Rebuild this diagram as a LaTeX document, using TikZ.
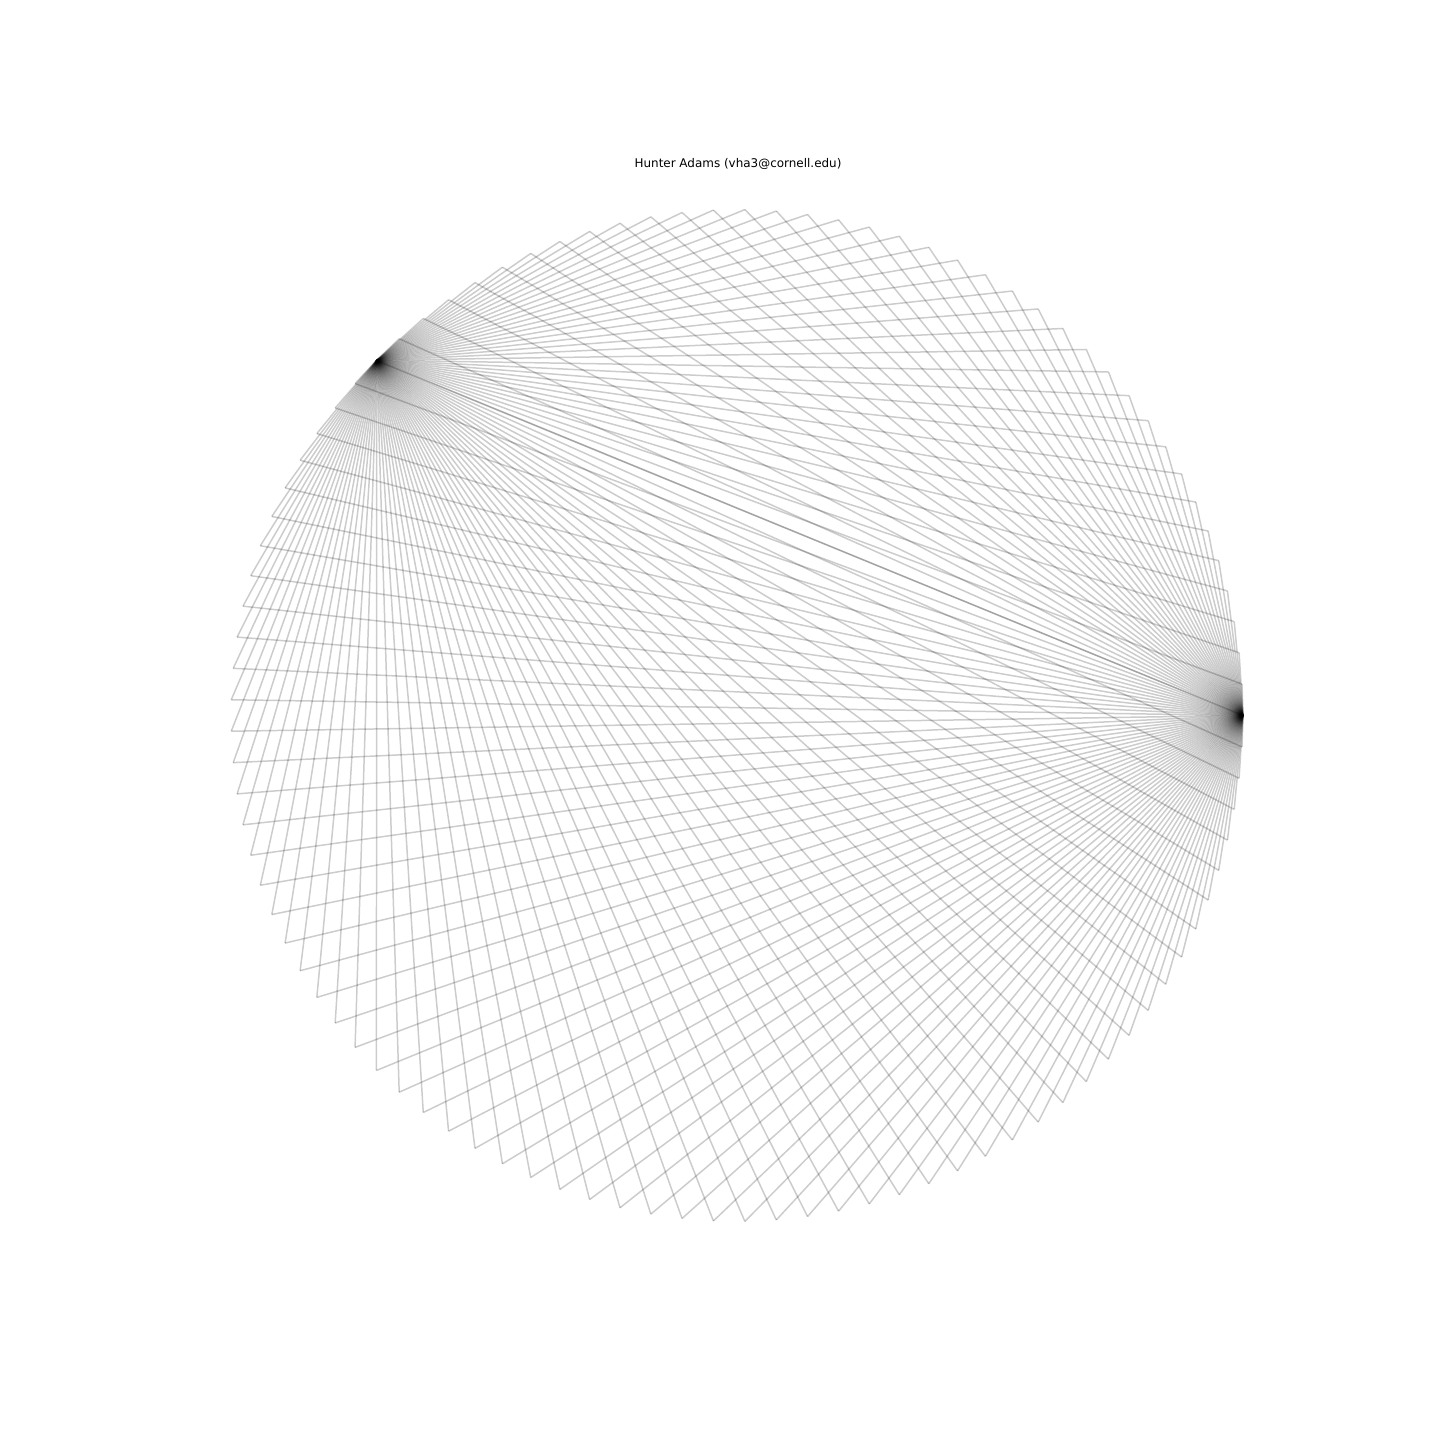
\documentclass[tikz,border=0pt]{standalone}
\usepackage{fontspec}
\setmainfont{DejaVu Sans}

\begin{document}
\begin{tikzpicture}[
  x=0.50187pt, y=-0.50187pt,
  chord/.style={draw=black, draw opacity=0.2, line width=0.75pt},
  ttl/.style={font=\fontsize{6}{7}\selectfont, inner sep=0pt},
]
\useasboundingbox (0,0) rectangle (1440,1440);

% ---------------- title ----------------
\node[ttl] (title) at (738,164) {Hunter Adams (vha3@cornell.edu)};

% ---------------- chords to the two fixed points ----------------
\begin{scope}[shift={(737,715.5)}, yscale=-1]
  \pgfmathsetmacro{\rad}{506}
  \coordinate (fixa) at (0:\rad);
  \coordinate (fixb) at (135.4:\rad);
  \foreach \i in {0,...,100}{
    \pgfmathsetmacro{\ang}{\i/101*360}
    \coordinate (p\i) at (\ang:\rad);
    \draw[chord] (p\i) -- (fixa);
    \draw[chord] (p\i) -- (fixb);
  }
\end{scope}

\end{tikzpicture}
\end{document}
